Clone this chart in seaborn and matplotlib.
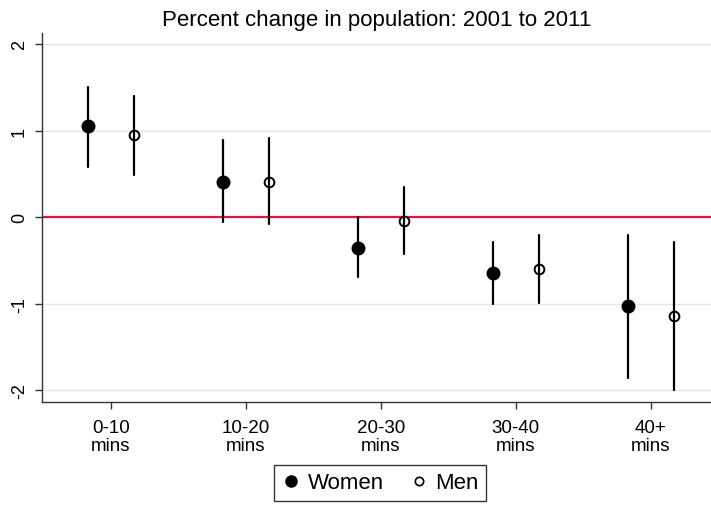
import matplotlib
matplotlib.use("Agg")
import matplotlib.pyplot as plt
from matplotlib.lines import Line2D
import seaborn as sns
import pandas as pd
import numpy as np

categories = ["0-10\nmins", "10-20\nmins", "20-30\nmins", "30-40\nmins", "40+\nmins"]
groups = ["Women", "Men"]
women_est = [1.05, 0.41, -0.35, -0.64, -1.03]
women_lo = [0.58, -0.06, -0.69, -1.00, -1.86]
women_hi = [1.51, 0.89, 0.00, -0.29, -0.20]
men_est = [0.95, 0.41, -0.04, -0.60, -1.14]
men_lo = [0.49, -0.08, -0.42, -0.99, -2.00]
men_hi = [1.40, 0.91, 0.35, -0.21, -0.29]
yticks = [-2, -1, 0, 1, 2]
title = "Percent change in population: 2001 to 2011"

rows = []
for g, est, lo, hi in [("Women", women_est, women_lo, women_hi),
                       ("Men", men_est, men_lo, men_hi)]:
    for c, e, l, h in zip(categories, est, lo, hi):
        for v in (l, e, h):
            rows.append({"cat": c, "group": g, "value": v})
df = pd.DataFrame(rows)

sns.set_style("white")
plt.rcParams["font.family"] = ["Liberation Sans", "DejaVu Sans"]
plt.rcParams["text.color"] = "black"
plt.rcParams["xtick.color"] = "#333333"
plt.rcParams["ytick.color"] = "#333333"
plt.rcParams["xtick.labelcolor"] = "black"
plt.rcParams["ytick.labelcolor"] = "black"

fig = plt.figure(figsize=(7.11, 5.06), dpi=100)
ax = fig.add_axes([42 / 711, 1 - 403 / 506, 1 - 42 / 711, (403 - 34) / 506])

for y in yticks:
    ax.axhline(y, color="#e6e6e6", lw=1.0, zorder=0)
ax.axhline(0, color="#d4194a", lw=1.6, zorder=1)

sns.pointplot(data=df, x="cat", y="value", hue="group", order=categories,
              hue_order=groups, estimator="median",
              errorbar=lambda v: (v.min(), v.max()),
              dodge=0.34, linestyle="none", markers=["o", "o"],
              palette=["black", "black"], err_kws={"linewidth": 1.6},
              markersize=8, legend=False, ax=ax, zorder=3)

# make Men markers hollow
for ln in ax.lines:
    xs = np.asarray(ln.get_xdata(), dtype=float)
    if ln.get_marker() == "o" and len(xs) and np.all(xs > np.round(xs)):
        ln.set_markerfacecolor("white")
        ln.set_markersize(7)
        ln.set_markeredgewidth(1.4)

ax.set_xlim(-0.51, 4.445)
ax.set_ylim(-2.133, 2.128)
ax.set_yticks(yticks)
ax.set_yticklabels([str(t) for t in yticks], rotation=90, va="center", fontsize=13)
ax.tick_params(axis="x", bottom=True, labelsize=13.5, length=5, width=1,
               color="#333333", labelcolor="black", pad=7)
ax.tick_params(axis="y", left=True, length=5, width=1, color="#333333",
               labelcolor="black", pad=5)
for lbl in ax.get_xticklabels():
    lbl.set_linespacing(1.1)
ax.set_xlabel("")
ax.set_ylabel("")
for s in ["top", "right"]:
    ax.spines[s].set_visible(False)
for s in ["left", "bottom"]:
    ax.spines[s].set_color("#333333")
    ax.spines[s].set_linewidth(1.0)

ax.set_title(title, fontsize=16, pad=6, color="black")

handles = [Line2D([], [], marker="o", linestyle="none", color="black",
                  markerfacecolor="black", markersize=8),
           Line2D([], [], marker="o", linestyle="none", color="black",
                  markerfacecolor="white", markersize=6, markeredgewidth=1.2)]
leg = fig.legend(handles, groups, loc="center", bbox_to_anchor=(380 / 711, 1 - 484 / 506),
                 ncol=2, fontsize=16, frameon=True, fancybox=False,
                 edgecolor="black", handletextpad=0.3, columnspacing=1.1,
                 borderpad=0.35, handlelength=0.9)
leg.get_frame().set_linewidth(1.0)
for t in leg.get_texts():
    t.set_color("black")

fig.savefig("out.png", dpi=100)
